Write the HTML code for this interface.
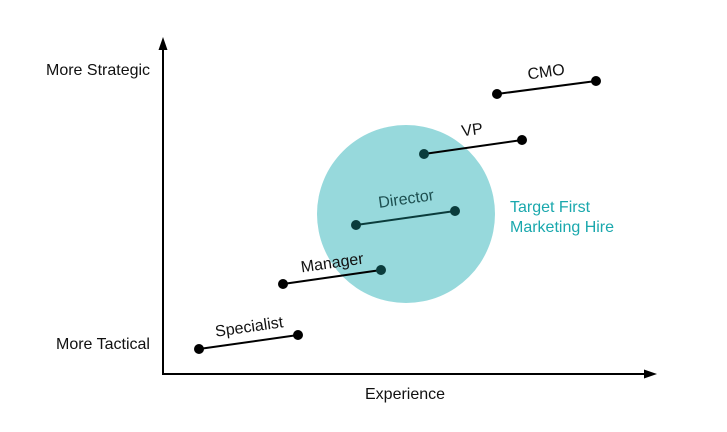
<!DOCTYPE html>
<html><head><style>html,body{margin:0;padding:0;background:#fff;}</style></head>
<body>
<svg width="727" height="427" viewBox="0 0 727 427" xmlns="http://www.w3.org/2000/svg" font-family="Liberation Sans, sans-serif" font-size="16">
<circle cx="406" cy="214" r="89" fill="#97d9dc"/>
<line x1="163" y1="375" x2="163" y2="48" stroke="#000" stroke-width="2"/>
<polygon points="163,37 158.5,50 167.5,50" fill="#000"/>
<line x1="162" y1="374" x2="645" y2="374" stroke="#000" stroke-width="2"/>
<polygon points="657,374 644,369.5 644,378.5" fill="#000"/>
<text x="46" y="75" fill="#111">More Strategic</text>
<text x="56" y="349" fill="#111">More Tactical</text>
<text x="365" y="399" fill="#111">Experience</text>
<text x="510" y="212" fill="#1aa8ad">Target First</text>
<text x="510" y="232" fill="#1aa8ad">Marketing Hire</text>
<g stroke="#000" stroke-width="2" fill="#000">
<line x1="199" y1="349" x2="298" y2="335"/><circle cx="199" cy="349" r="4"/><circle cx="298" cy="335" r="4"/>
<line x1="283" y1="284" x2="381" y2="270"/><circle cx="283" cy="284" r="4"/>
<line x1="497" y1="94" x2="596" y2="81"/><circle cx="497" cy="94" r="4"/><circle cx="596" cy="81" r="4"/>
<line x1="424" y1="154" x2="522" y2="140"/><circle cx="522" cy="140" r="4"/>
</g>
<g stroke="#0b3c3c" stroke-width="2" fill="#0b3c3c">
<circle cx="381" cy="270" r="4"/>
<circle cx="424" cy="154" r="4"/>
<line x1="356" y1="225" x2="455" y2="211"/><circle cx="356" cy="225" r="4"/><circle cx="455" cy="211" r="4"/>
</g>
<text x="249" y="332" text-anchor="middle" transform="rotate(-8 249 326)" fill="#111">Specialist</text>
<text x="332" y="268" text-anchor="middle" transform="rotate(-8 332 262)" fill="#111">Manager</text>
<text x="406" y="204" text-anchor="middle" transform="rotate(-8 406 198)" fill="#1d4f50">Director</text>
<text x="472" y="135" text-anchor="middle" transform="rotate(-8 472 129)" fill="#111">VP</text>
<text x="546" y="77" text-anchor="middle" transform="rotate(-8 546 71)" fill="#111">CMO</text>
</svg>
</body></html>
